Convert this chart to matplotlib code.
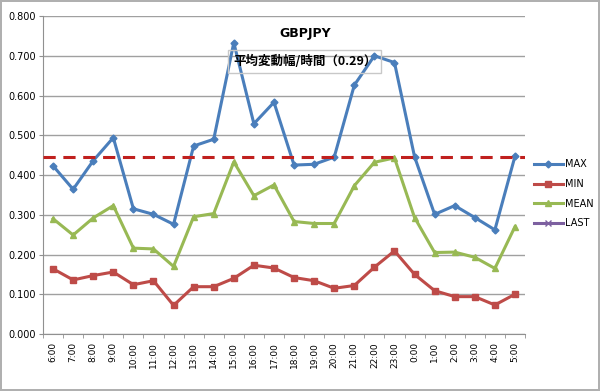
import matplotlib
matplotlib.use('Agg')
import matplotlib.pyplot as plt
import numpy as np

plt.rcParams['font.family'] = ['DejaVu Sans', 'Noto Sans CJK JP']

# Hourly range data for GBPJPY
hours = ['6:00', '7:00', '8:00', '9:00', '10:00', '11:00', '12:00', '13:00',
         '14:00', '15:00', '16:00', '17:00', '18:00', '19:00', '20:00', '21:00',
         '22:00', '23:00', '0:00', '1:00', '2:00', '3:00', '4:00', '5:00']
max_vals = [0.423, 0.364, 0.436, 0.494, 0.315, 0.301, 0.276, 0.473,
            0.490, 0.733, 0.529, 0.583, 0.425, 0.427, 0.445, 0.626,
            0.700, 0.683, 0.446, 0.301, 0.323, 0.293, 0.262, 0.447]
min_vals = [0.164, 0.136, 0.147, 0.156, 0.124, 0.134, 0.072, 0.119,
            0.119, 0.140, 0.173, 0.166, 0.142, 0.134, 0.115, 0.122,
            0.168, 0.209, 0.150, 0.109, 0.094, 0.094, 0.073, 0.100]
mean_vals = [0.290, 0.249, 0.292, 0.323, 0.216, 0.214, 0.170, 0.295,
             0.303, 0.433, 0.348, 0.375, 0.283, 0.278, 0.278, 0.373,
             0.432, 0.443, 0.293, 0.205, 0.206, 0.193, 0.165, 0.270]
last_level = 0.446
avg_range = 0.29

fig = plt.figure(figsize=(6, 3.91), dpi=100)
fig.patch.set_edgecolor('#b0b0b0')
fig.patch.set_linewidth(1.5)
ax = fig.add_axes([0.0717, 0.1458, 0.8033, 0.8132])

x = np.arange(len(hours))
ax.plot(x, max_vals, color='#4A7EBB', lw=2.2, marker='D', ms=3.5, label='MAX', zorder=4)
ax.plot(x, min_vals, color='#BE4B48', lw=2.2, marker='s', ms=5, label='MIN', zorder=4)
ax.plot(x, mean_vals, color='#98B954', lw=2.2, marker='^', ms=5, label='MEAN', zorder=4)
ax.plot([], [], color='#7D60A0', lw=2.2, marker='x', ms=5, label='LAST')
ax.axhline(last_level, color='#C0201E', lw=2.2, ls=(0, (4, 2.5)), zorder=5)

ax.set_xlim(-0.5, len(hours) - 0.5)
ax.set_ylim(0, 0.8)
ax.set_yticks(np.arange(0, 0.81, 0.1))
ax.set_yticklabels([f'{v:.3f}' for v in np.arange(0, 0.81, 0.1)], fontsize=7)
ax.set_xticks(x)
ax.set_xticklabels(hours, rotation=90, fontsize=6.5)
ax.set_xticks(np.arange(-0.5, len(hours)), minor=True)
ax.tick_params(axis='x', which='major', length=0, pad=6)
ax.tick_params(axis='x', which='minor', length=3, color='#909090')
ax.tick_params(axis='y', length=3, color='#909090', pad=2)
ax.grid(axis='y', color='#a0a0a0', lw=1)
ax.set_axisbelow(True)
for s in ['top', 'right']:
    ax.spines[s].set_visible(False)
for s in ['left', 'bottom']:
    ax.spines[s].set_color('#909090')

fig.text(0.508, 0.915, 'GBPJPY', ha='center', va='center', fontsize=9, fontweight='bold')
fig.text(0.508, 0.843, f'平均変動幅/時間（{avg_range}）', ha='center', va='center',
         fontsize=9, fontweight='bold', family=['Noto Sans CJK JP', 'DejaVu Sans'],
         bbox=dict(boxstyle='square,pad=0.4', fc='none', ec='#c8c8c8', lw=1))

leg = fig.legend(loc='upper left', bbox_to_anchor=(0.875, 0.615), frameon=False,
                 fontsize=7, handlelength=3, labelspacing=1.0, handletextpad=0.2)

fig.savefig('out.png', dpi=100)
